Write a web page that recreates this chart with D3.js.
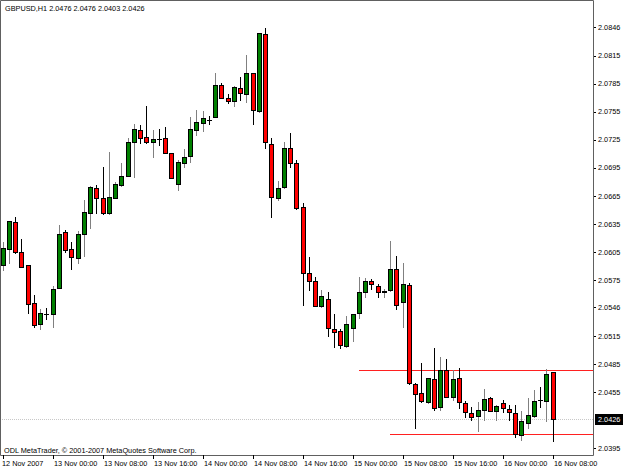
<!DOCTYPE html>
<html>
<head>
<meta charset="utf-8">
<script src="https://cdn.jsdelivr.net/npm/d3@7"></script>
<style>
  html, body { margin: 0; padding: 0; background: #fff; }
  svg { display: block; }
</style>
</head>
<body>
<div id="chart-area"></div>
<script>
// GBPUSD H1 bars, 12 Nov 2007 16:00 .. 16 Nov 2007 08:00
const opens  = [2.0591,2.0608,2.0637,2.0605,2.0591,2.0550,2.0528,2.0539,2.0539,2.0566,
                2.0626,2.0608,2.0599,2.0624,2.0647,2.0674,2.0663,2.0647,2.0663,2.0677,
                2.0686,2.0723,2.0736,2.0728,2.0723,2.0726,2.0727,2.0711,2.0678,2.0700,
                2.0708,2.0736,2.0743,2.0746,2.0750,2.0784,2.0770,2.0767,2.0781,2.0774,
                2.0797,2.0756,2.0838,2.0721,2.0663,2.0675,2.0716,2.0700,2.0653,2.0582,
                2.0574,2.0547,2.0555,2.0522,2.0520,2.0504,2.0524,2.0540,2.0562,2.0574,
                2.0569,2.0562,2.0564,2.0587,2.0551,2.0570,2.0464,2.0454,2.0444,2.0469,
                2.0439,2.0479,2.0450,2.0470,2.0443,2.0433,2.0429,2.0436,2.0449,2.0435,
                2.0443,2.0437,2.0433,2.0409,2.0422,2.0429,2.0446,2.0445,2.0476];
const highs  = [2.0616,2.0638,2.0642,2.0619,2.0591,2.0559,2.0544,2.0545,2.0568,2.0634,
                2.0628,2.0616,2.0627,2.0661,2.0676,2.0677,2.0696,2.0712,2.0680,2.0700,
                2.0727,2.0742,2.0741,2.0761,2.0736,2.0737,2.0739,2.0711,2.0704,2.0715,
                2.0750,2.0757,2.0756,2.0751,2.0797,2.0786,2.0774,2.0783,2.0792,2.0816,
                2.0797,2.0840,2.0845,2.0727,2.0681,2.0723,2.0732,2.0704,2.0657,2.0600,
                2.0578,2.0564,2.0562,2.0539,2.0522,2.0536,2.0539,2.0578,2.0577,2.0576,
                2.0571,2.0565,2.0617,2.0601,2.0593,2.0572,2.0465,2.0486,2.0470,2.0502,
                2.0492,2.0490,2.0479,2.0481,2.0445,2.0439,2.0444,2.0458,2.0450,2.0441,
                2.0446,2.0441,2.0441,2.0435,2.0449,2.0457,2.0460,2.0480,2.0476];
const lows   = [2.0586,2.0593,2.0604,2.0589,2.0540,2.0525,2.0522,2.0533,2.0525,2.0566,
                2.0605,2.0587,2.0593,2.0601,2.0631,2.0647,2.0646,2.0646,2.0663,2.0676,
                2.0686,2.0685,2.0722,2.0722,2.0707,2.0720,2.0711,2.0684,2.0671,2.0696,
                2.0701,2.0730,2.0735,2.0742,2.0750,2.0770,2.0765,2.0761,2.0768,2.0766,
                2.0742,2.0755,2.0716,2.0642,2.0661,2.0674,2.0696,2.0651,2.0548,2.0564,
                2.0547,2.0546,2.0515,2.0503,2.0502,2.0503,2.0510,2.0534,2.0557,2.0565,
                2.0557,2.0557,2.0563,2.0544,2.0525,2.0464,2.0416,2.0444,2.0443,2.0436,
                2.0436,2.0450,2.0446,2.0438,2.0428,2.0425,2.0413,2.0425,2.0435,2.0425,
                2.0434,2.0425,2.0407,2.0404,2.0416,2.0428,2.0439,2.0424,2.0403];
const closes = [2.0609,2.0638,2.0605,2.0589,2.0549,2.0527,2.0540,2.0539,2.0565,2.0624,
                2.0607,2.0600,2.0624,2.0648,2.0675,2.0663,2.0647,2.0664,2.0678,2.0686,
                2.0723,2.0737,2.0727,2.0723,2.0726,2.0726,2.0711,2.0684,2.0701,2.0707,
                2.0737,2.0744,2.0748,2.0746,2.0784,2.0770,2.0767,2.0782,2.0775,2.0797,
                2.0757,2.0840,2.0723,2.0664,2.0674,2.0716,2.0700,2.0652,2.0582,2.0574,
                2.0547,2.0558,2.0524,2.0519,2.0505,2.0528,2.0539,2.0562,2.0574,2.0571,
                2.0562,2.0563,2.0587,2.0548,2.0571,2.0465,2.0453,2.0445,2.0470,2.0438,
                2.0479,2.0450,2.0469,2.0444,2.0434,2.0428,2.0436,2.0448,2.0435,2.0440,
                2.0438,2.0434,2.0410,2.0424,2.0430,2.0445,2.0446,2.0474,2.0426];

const priceTicks = [2.0846,2.0815,2.0785,2.0755,2.0725,2.0695,2.0665,2.0635,2.0605,
                    2.0575,2.0546,2.0515,2.0485,2.0455,2.0395];
const timeLabels = ["12 Nov 2007","13 Nov 00:00","13 Nov 08:00","13 Nov 16:00","14 Nov 00:00",
                    "14 Nov 08:00","14 Nov 16:00","15 Nov 00:00","15 Nov 08:00","15 Nov 16:00",
                    "16 Nov 00:00","16 Nov 08:00"];
// horizontal lines drawn on the chart: [price, first bar]
const levels = [[2.0479, 57], [2.0410, 62]];
const lastPrice = 2.0426;
const title = "GBPUSD,H1  2.0476 2.0476 2.0403 2.0426";
const copyright = "ODL MetaTrader, \u00A9 2001-2007 MetaQuotes Software Corp.";

const W = 625, H = 469;
const plotR = 593, plotB = 455;
const font = "'Liberation Sans', Arial, sans-serif";

const start = new Date(2007, 10, 12, 16);
const bars = opens.map((o, i) => ({
  t: d3.timeHour.offset(start, i),
  o: o, h: highs[i], l: lows[i], c: closes[i]
}));

const x = d3.scaleTime()
  .domain([bars[0].t, bars[bars.length - 1].t])
  .range([2.7, 552.7]);
const y = d3.scaleLinear()
  .domain([2.08749, 2.03875])
  .range([0, plotB]);

let svg = d3.select('#chart-area')
  .append('svg')
  .attr('width', W)
  .attr('height', H)
  .style('font-family', font)
  .style('font-size', '7.3px');

svg.append('rect').attr('width', W).attr('height', H).attr('fill', '#fff');

// current price line (light gray)
svg.append('line')
  .attr('x1', 0).attr('x2', plotR)
  .attr('y1', Math.round(y(lastPrice)) + 0.5).attr('y2', Math.round(y(lastPrice)) + 0.5)
  .attr('stroke', '#c8c8c8').attr('stroke-dasharray', '1,1');

// level lines
svg.selectAll('.level')
  .data(levels)
  .join('line')
  .attr('class', 'level')
  .attr('x1', d => Math.round(x(bars[d[1]].t)))
  .attr('x2', plotR)
  .attr('y1', d => Math.round(y(d[0])) + 0.5)
  .attr('y2', d => Math.round(y(d[0])) + 0.5)
  .attr('stroke', '#ff2020');

const cx = d => Math.round(x(d.t));

const candle = svg.append('g')
  .selectAll('g')
  .data(bars)
  .join('g');

candle.append('line')
  .attr('x1', d => cx(d) + 0.5).attr('x2', d => cx(d) + 0.5)
  .attr('y1', d => Math.round(y(d.h)))
  .attr('y2', d => Math.round(y(d.l)) + 1)
  .attr('stroke', d => d.c > d.o ? '#808080' : '#000');

candle.filter(d => d.c !== d.o)
  .append('rect')
  .attr('x', d => cx(d) - 1.5)
  .attr('width', 4)
  .attr('y', d => Math.round(y(Math.max(d.o, d.c))) + 0.5)
  .attr('height', d => Math.max(1, Math.round(y(Math.min(d.o, d.c))) - Math.round(y(Math.max(d.o, d.c)))))
  .attr('fill', d => d.c > d.o ? '#008000' : '#ff0000')
  .attr('stroke', '#000');

candle.filter(d => d.c === d.o)
  .append('line')
  .attr('x1', d => cx(d) - 2).attr('x2', d => cx(d) + 3)
  .attr('y1', d => Math.round(y(d.o)) + 0.5).attr('y2', d => Math.round(y(d.o)) + 0.5)
  .attr('stroke', '#000');

// frame
svg.append('path')
  .attr('d', `M0.5,0.5H${plotR + 0.5}V${plotB + 0.5}H0.5Z`)
  .attr('fill', 'none')
  .attr('stroke', '#606060');

// price axis
const py = svg.append('g');
py.selectAll('line')
  .data(priceTicks)
  .join('line')
  .attr('x1', plotR + 1).attr('x2', plotR + 3)
  .attr('y1', d => Math.round(y(d)) + 0.5).attr('y2', d => Math.round(y(d)) + 0.5)
  .attr('stroke', '#000');
py.selectAll('text')
  .data(priceTicks)
  .join('text')
  .attr('x', 598)
  .attr('y', d => y(d))
  .attr('dy', '0.35em')
  .attr('fill', '#000')
  .text(d3.format('.4f'));

// last price box
const ly = Math.round(y(lastPrice));
svg.append('rect')
  .attr('x', plotR + 2).attr('y', ly - 5)
  .attr('width', 28).attr('height', 11)
  .attr('fill', '#000');
svg.append('text')
  .attr('x', 598).attr('y', ly + 0.5).attr('dy', '0.35em')
  .attr('fill', '#fff')
  .text(d3.format('.4f')(lastPrice));

// time axis
const tickBars = timeLabels.map((s, i) => bars[i * 8]);
const tx = svg.append('g');
tx.selectAll('line')
  .data(tickBars)
  .join('line')
  .attr('x1', d => cx(d) + 0.5).attr('x2', d => cx(d) + 0.5)
  .attr('y1', plotB).attr('y2', plotB + 4)
  .attr('stroke', '#000');
tx.selectAll('text')
  .data(timeLabels)
  .join('text')
  .attr('x', (d, i) => cx(tickBars[i]) + (i === 0 ? -1 : 1))
  .attr('y', 466)
  .attr('fill', '#000')
  .text(d => d);

// captions
svg.append('text').attr('x', 5).attr('y', 11).attr('fill', '#000').text(title);
svg.append('text').attr('x', 4).attr('y', 453).attr('fill', '#000').text(copyright);
</script>
</body>
</html>
